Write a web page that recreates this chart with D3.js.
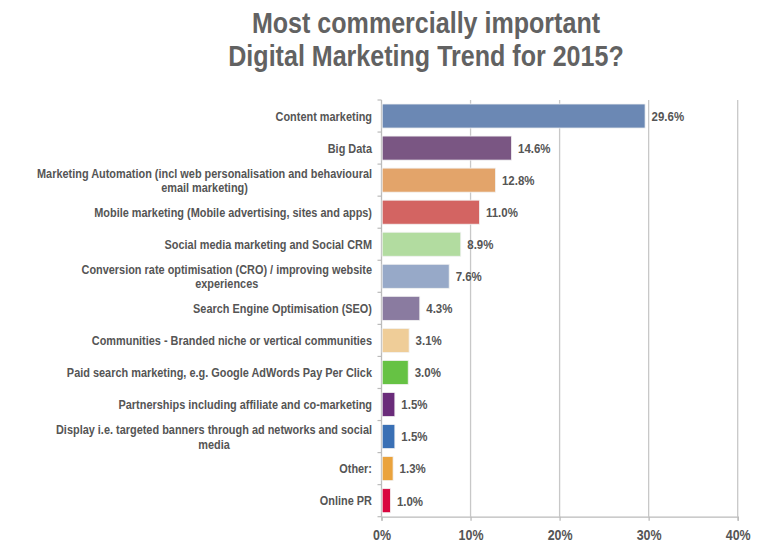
<!DOCTYPE html>
<html><head><meta charset="utf-8">
<script src="https://cdn.jsdelivr.net/npm/d3@7"></script>
<style>
body{margin:0;background:#fff;}
text{font-family:"Liberation Sans",Arial,sans-serif;font-weight:bold;}
</style></head>
<body><svg id="c" width="759" height="554"></svg>
<script>
const categories = [
  ["Content marketing"],
  ["Big Data"],
  ["Marketing Automation (incl web personalisation and behavioural","email marketing)"],
  ["Mobile marketing (Mobile advertising, sites and apps)"],
  ["Social media marketing and Social CRM"],
  ["Conversion rate optimisation (CRO) / improving website","experiences"],
  ["Search Engine Optimisation (SEO)"],
  ["Communities - Branded niche or vertical communities"],
  ["Paid search marketing, e.g. Google AdWords Pay Per Click"],
  ["Partnerships including affiliate and co-marketing"],
  ["Display i.e. targeted banners through ad networks and social","media"],
  ["Other:"],
  ["Online PR"]
];
const values = [29.6,14.6,12.8,11.0,8.9,7.6,4.3,3.1,3.0,1.5,1.5,1.3,1.0];
const colors = ["#6b88b4","#7a5683","#e3a46a","#d36462","#b2dca0","#97a9c8","#8a7ba0","#efcd98","#66c244","#6a2c7a","#3a70b5","#eaa33d","#d9063f"];
const xTicks = [0,10,20,30,40];
const titleLines = ["Most commercially important","Digital Marketing Trend for 2015?"];

const svg = d3.select("#c");
const pL = 381.5, pR = 737.7, pT = 100, pB = 516.7;
const x = d3.scaleLinear().domain([0,40]).range([pL,pR]);
const y = d3.scaleBand().domain(d3.range(categories.length)).range([pT,pB]).paddingInner(0.25).paddingOuter(0.125);

// narrow-text helper: place text at (tx,ty) and compress horizontally
function narrow(sel, tx, ty, sx){
  sel.attr("x",0).attr("y",0).attr("transform",`translate(${tx},${ty}) scale(${sx},1)`);
  return sel;
}

// title
titleLines.forEach((t,i)=>{
  narrow(svg.append("text").attr("text-anchor","middle").attr("fill","#626262")
    .style("font-size","29.5px").text(t), 426, 33+i*32.5, 0.85);
});

// gridlines
svg.append("g").selectAll("line").data(xTicks.slice(1)).join("line")
  .attr("x1",d=>x(d)).attr("x2",d=>x(d)).attr("y1",pT).attr("y2",pB)
  .attr("stroke","#c8c8c8").attr("stroke-width",1.3);

// bottom axis
const xAxis = d3.axisBottom(x).tickValues(xTicks).tickFormat(d=>d+"%").tickSize(4).tickPadding(9);
const gx = svg.append("g").attr("transform",`translate(0,${pB})`).call(xAxis);
gx.select(".domain").attr("stroke","#bbb").attr("stroke-width",1.3);
gx.selectAll(".tick line").attr("stroke","#bbb").attr("stroke-width",1.3);
gx.selectAll(".tick text").attr("fill","#555").style("font-size","15px")
  .style("font-family","'Liberation Sans',Arial,sans-serif").style("font-weight","bold")
  .attr("transform","scale(0.83,1)");

// left axis line with band-boundary ticks
svg.append("line").attr("x1",pL).attr("x2",pL).attr("y1",pT).attr("y2",pB)
  .attr("stroke","#bbb").attr("stroke-width",1.3);
const step = y.step();
svg.append("g").selectAll("line").data(d3.range(categories.length+1)).join("line")
  .attr("x1",pL-4).attr("x2",pL).attr("y1",d=>pT+d*step).attr("y2",d=>pT+d*step)
  .attr("stroke","#bbb").attr("stroke-width",1.2);

// bars
svg.append("g").selectAll("rect").data(values).join("rect")
  .attr("x",x(0)+0.7).attr("y",(d,i)=>y(i)).attr("width",d=>x(d)-x(0)-0.7).attr("height",y.bandwidth())
  .attr("fill",(d,i)=>colors[i]).attr("stroke","#f2f2f2").attr("stroke-width",0.8);

// value labels
values.forEach((v,i)=>{
  narrow(svg.append("text").attr("dy","0.36em").attr("fill","#555")
    .style("font-size","13.5px").text(v.toFixed(1)+"%"), x(v)+6.5, y(i)+y.bandwidth()/2, 0.85);
});

// category labels
const labX = 372, sxL = 0.84;
categories.forEach((lines,i)=>{
  const cy = y(i)+y.bandwidth()/2;
  if(lines.length===1){
    narrow(svg.append("text").attr("dy","0.36em").attr("text-anchor","end")
      .attr("fill","#555").style("font-size","13px").text(lines[0]), labX, cy, sxL);
  } else {
    const t1 = narrow(svg.append("text").attr("dy","0.36em").attr("text-anchor","end")
      .attr("fill","#555").style("font-size","13px").text(lines[0]), labX, cy-7.3, sxL);
    const w = t1.node().getComputedTextLength()*sxL;
    narrow(svg.append("text").attr("dy","0.36em").attr("text-anchor","middle")
      .attr("fill","#555").style("font-size","13px").text(lines[1]), labX-w/2, cy+7.3, sxL);
  }
});
</script></body></html>
